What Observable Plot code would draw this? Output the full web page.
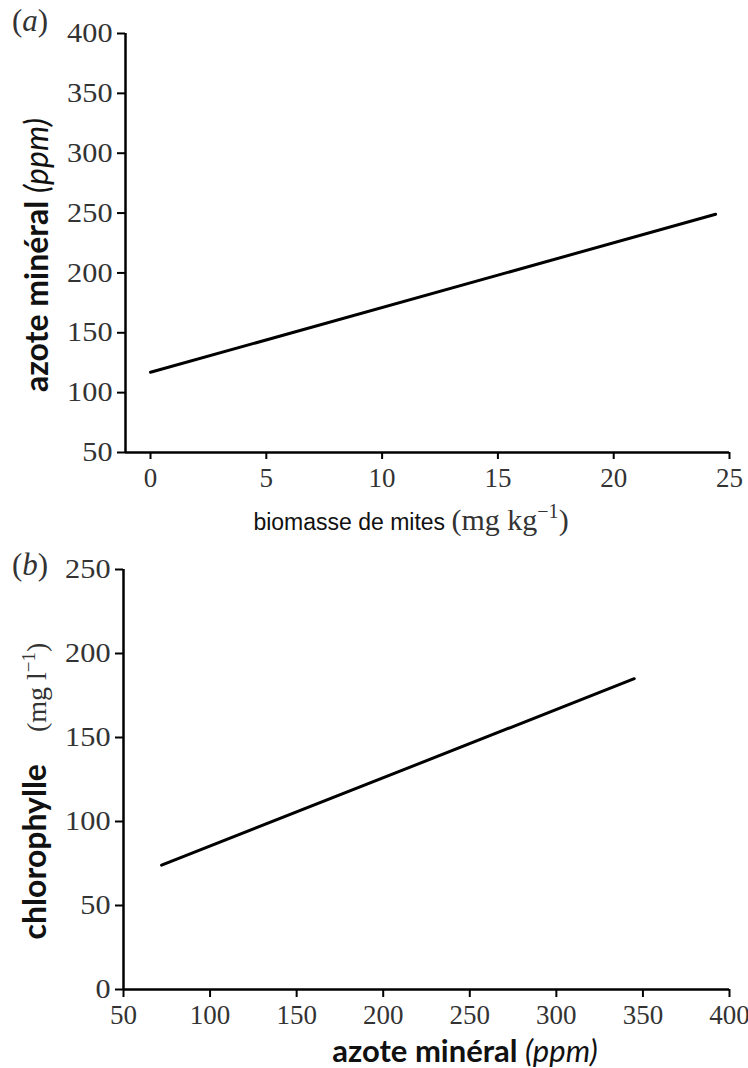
<!DOCTYPE html>
<html><head><meta charset="utf-8">
<script src="https://cdn.jsdelivr.net/npm/d3@7"></script>
<script src="https://cdn.jsdelivr.net/npm/@observablehq/plot@0.6"></script>
<style>
body{margin:0;background:#fff}
#chart{width:748px}
svg{display:block}
</style>
</head><body><div id="chart"></div>
<script>
// Panel (a): mite biomass vs mineral nitrogen (fitted line)
const miteBiomass = [0, 24.4];
const mineralN_a = [117, 249];
const xTicksA = [0, 5, 10, 15, 20, 25];
const yTicksA = [50, 100, 150, 200, 250, 300, 350, 400];
const xDomainA = [-1.08, 25];
const yDomainA = [50, 400];

// Panel (b): mineral nitrogen vs chlorophyll (fitted line)
const mineralN_b = [72, 345];
const chlorophyll = [74, 185];
const xTicksB = [50, 100, 150, 200, 250, 300, 350, 400];
const yTicksB = [0, 50, 100, 150, 200, 250];
const xDomainB = [50, 400];
const yDomainB = [0, 250];

const dataA = miteBiomass.map((x, i) => ({x, y: mineralN_a[i]}));
const dataB = mineralN_b.map((x, i) => ({x, y: chlorophyll[i]}));

const serif = "'Liberation Serif', 'DejaVu Serif', serif";
const sansBold = "Lato, 'Open Sans', sans-serif";
const sansReg = "'Liberation Sans', Arial, sans-serif";

const tickFont = {fontFamily: serif, fontSize: 27, fill: "#333", stroke: "black", strokeWidth: 2, label: null, tickFormat: d => d};

const plotA = Plot.plot({
  width: 748, height: 540,
  marginLeft: 125, marginRight: 19, marginTop: 33, marginBottom: 88,
  style: {fontFamily: serif, background: "white", overflow: "visible"},
  x: {domain: xDomainA},
  y: {domain: yDomainA},
  marks: [
    Plot.axisY({...tickFont, ticks: yTicksA, tickSize: 8, tickPadding: 5}),
    Plot.axisX({...tickFont, ticks: xTicksA, tickSize: 7, tickPadding: 8}),
    Plot.ruleX([xDomainA[0]], {stroke: "black", strokeWidth: 2.5}),
    Plot.ruleY([yDomainA[0]], {stroke: "black", strokeWidth: 2.5}),
    Plot.line(dataA, {x: "x", y: "y", stroke: "black", strokeWidth: 3})
  ]
});

const plotB = Plot.plot({
  width: 748, height: 528,
  marginLeft: 123, marginRight: 19, marginTop: 29, marginBottom: 79,
  style: {fontFamily: serif, background: "white", overflow: "visible"},
  x: {domain: xDomainB},
  y: {domain: yDomainB},
  marks: [
    Plot.axisY({...tickFont, ticks: yTicksB, tickSize: 8, tickPadding: 5}),
    Plot.axisX({...tickFont, ticks: xTicksB, tickSize: 8, tickPadding: 7}),
    Plot.ruleX([xDomainB[0]], {stroke: "black", strokeWidth: 2.5}),
    Plot.ruleY([yDomainB[0]], {stroke: "black", strokeWidth: 2.5}),
    Plot.line(dataB, {x: "x", y: "y", stroke: "black", strokeWidth: 3})
  ]
});

const chart = document.getElementById("chart");
chart.appendChild(plotA);
chart.appendChild(plotB);

// widen the serif y tick labels slightly, as in the reference typesetting
for (const svg of [plotA, plotB]) {
  d3.select(svg).selectAll('g[aria-label="y-axis tick label"] text').each(function() {
    const w = this.getComputedTextLength();
    if (w > 0) {
      this.setAttribute("textLength", (w * 1.12).toFixed(1));
      this.setAttribute("lengthAdjust", "spacingAndGlyphs");
    }
  });
}

function addText(svg, x, y, parts, opts = {}) {
  const t = d3.select(svg).append("text")
    .attr("text-anchor", opts.anchor || "start")
    .attr("fill", opts.fill || "#111");
  if (opts.rotate) t.attr("transform", `translate(${x},${y}) rotate(${opts.rotate})`);
  else t.attr("x", x).attr("y", y);
  for (const p of parts) {
    const s = t.append("tspan").text(p.text)
      .attr("font-family", p.family)
      .attr("font-size", p.size)
      .attr("font-weight", p.weight || "normal")
      .attr("font-style", p.style || "normal");
    if (p.dy) s.attr("dy", p.dy);
    if (p.dx) s.attr("dx", p.dx);
    if (p.fill) s.attr("fill", p.fill);
  }
  return t;
}

// Panel labels
addText(plotA, 12, 31, [{text: "(", family: serif, size: 31, fill: "#333"}, {text: "a", family: serif, size: 31, style: "italic", fill: "#333"}, {text: ")", family: serif, size: 31, fill: "#333"}]);
addText(plotB, 12, 35, [{text: "(", family: serif, size: 31, fill: "#333"}, {text: "b", family: serif, size: 31, style: "italic", fill: "#333"}, {text: ")", family: serif, size: 31, fill: "#333"}]);

// Panel (a) y title
addText(plotA, 48, 255, [
  {text: "azote minéral ", family: sansBold, size: 32, weight: "bold"},
  {text: "(ppm)", family: sansBold, size: 32, style: "italic"}
], {anchor: "middle", rotate: -90});

// Panel (a) x title
addText(plotA, 411, 530, [
  {text: "biomasse de mites ", family: sansReg, size: 23},
  {text: "(mg kg", family: serif, size: 30, fill: "#333"},
  {text: "−1", family: serif, size: 20, dy: -12, fill: "#333"},
  {text: ")", family: serif, size: 30, dy: 12, fill: "#333"}
], {anchor: "middle"});

// Panel (b) y title
addText(plotB, 46, 251, [
  {text: "chlorophylle", family: sansBold, size: 32, weight: "bold"},
  {text: "(mg l", family: serif, size: 28, dx: 32, fill: "#333"},
  {text: "−1", family: serif, size: 19, dy: -11, fill: "#333"},
  {text: ")", family: serif, size: 28, dy: 11, fill: "#333"}
], {anchor: "middle", rotate: -90});

// Panel (b) x title
addText(plotB, 465, 522, [
  {text: "azote minéral ", family: sansBold, size: 31, weight: "bold"},
  {text: "(ppm)", family: sansBold, size: 31, style: "italic"}
], {anchor: "middle"});
</script></body></html>
